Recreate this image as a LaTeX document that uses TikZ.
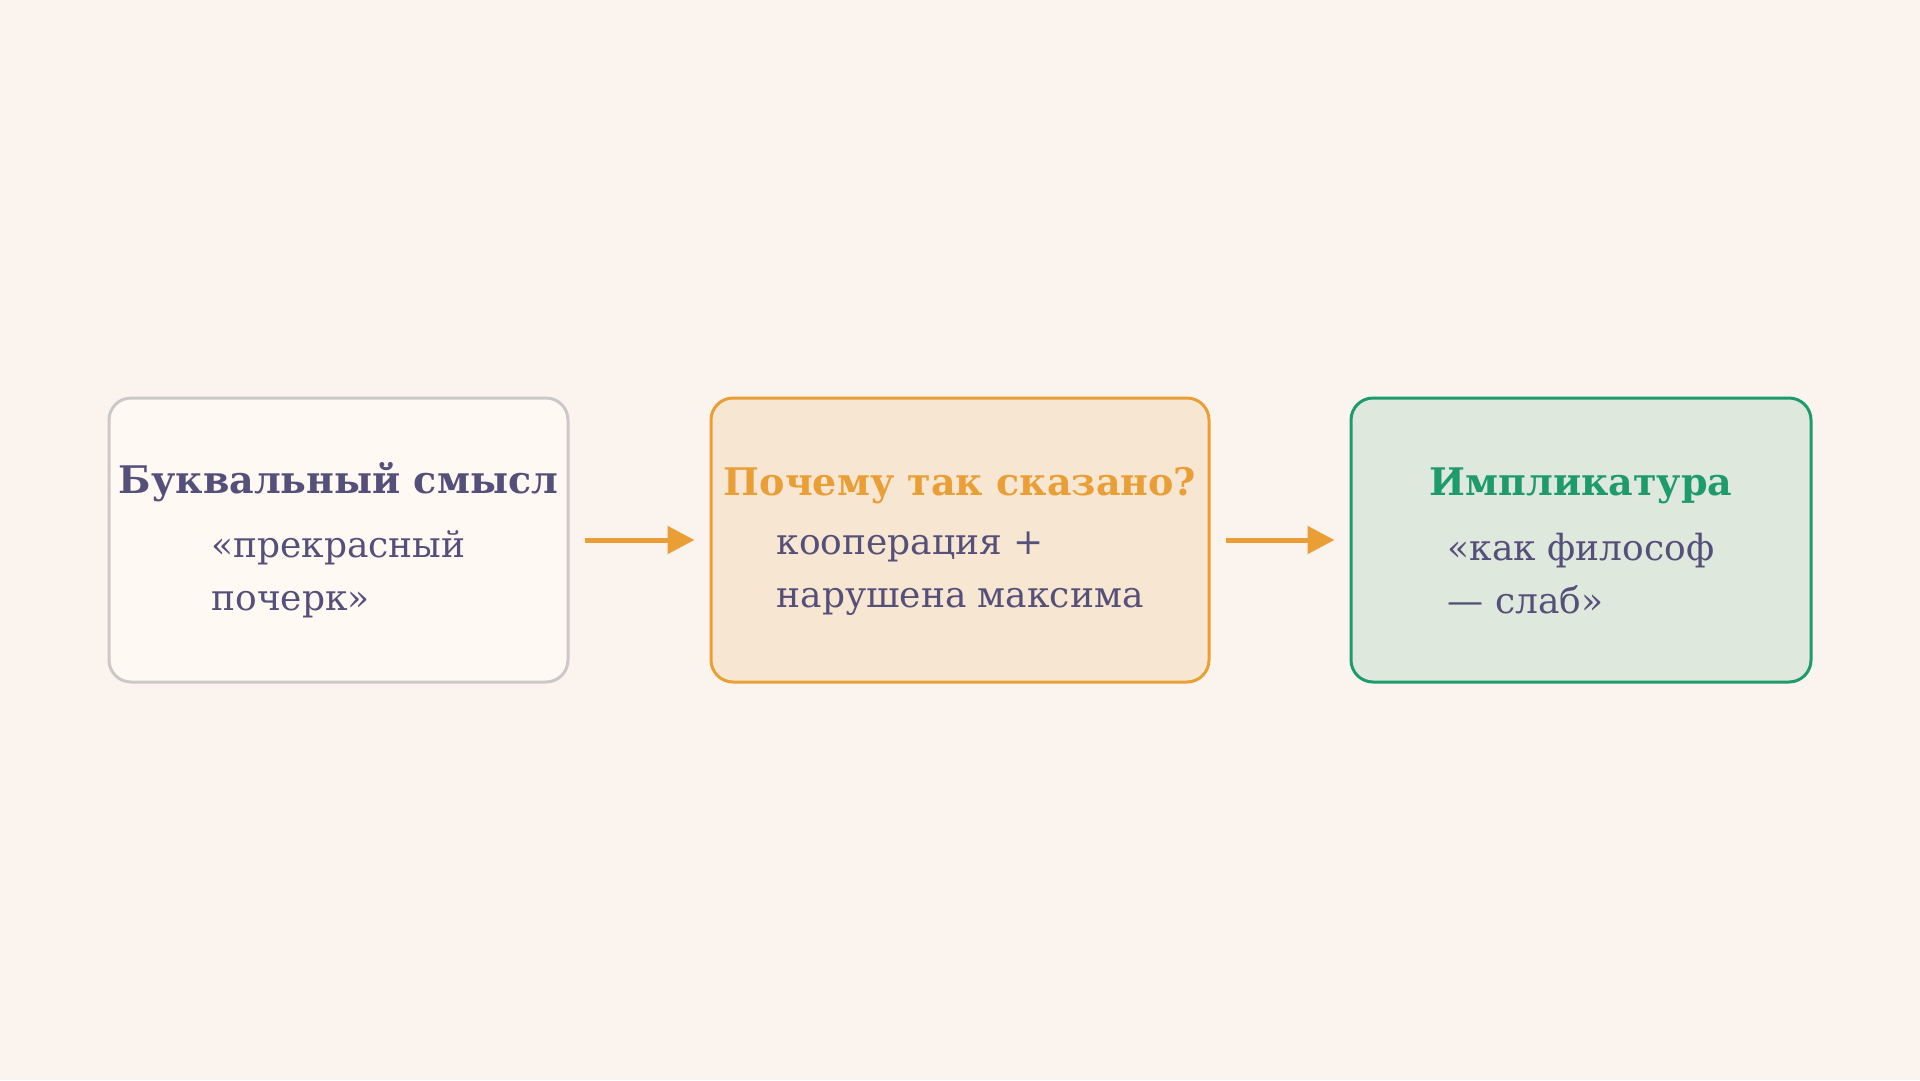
\documentclass[tikz,border=0pt]{standalone}
\usepackage{fontspec}
\setmainfont{DejaVu Serif}
\usepackage{tikz}
\usetikzlibrary{arrows.meta,positioning}
\definecolor{hinter}{HTML}{FBF4EE}
\definecolor{schrift}{HTML}{55507A}
\definecolor{orange}{HTML}{EA9E36}
\definecolor{gruen}{HTML}{1E9B6B}
\tikzset{
  kasten/.style={rounded corners=22pt,line width=3pt,minimum width=#1,minimum height=284pt,inner sep=0pt},
  titel/.style={font=\bfseries\fontsize{38}{46}\selectfont,anchor=base,inner sep=0pt},
  inhalt/.style={font=\fontsize{36}{53}\selectfont,text=schrift,align=left,anchor=base,inner sep=0pt},
  pfeil/.style={orange,line width=5pt,-{Triangle[length=27pt,width=27pt]},shorten <=15pt,shorten >=15pt}
}
\begin{document}
\begin{tikzpicture}[x=1pt,y=-1pt]
  \fill[hinter] (0,0) rectangle (1920,1080);
  \useasboundingbox (0,0) rectangle (1920,1080);
%Kaesten
  \node[kasten=459pt,draw={rgb,255:red,204;green,200;blue,200},fill={rgb,255:red,255;green,249;blue,243}] (wort) at (338.5,540) {};
  \node[kasten=498pt,draw=orange,fill={rgb,255:red,247;green,230;blue,209}] (warum) at (960,540) {};
  \node[kasten=460pt,draw=gruen,fill={rgb,255:red,223;green,232;blue,220}] (impl) at (1581,540) {};
%Texte (base = Grundlinie der letzten Zeile)
  \node[titel,text=schrift] (wortT) at (338.5,493) {Буквальный смысл};
  \node[inhalt] (wortI) at (338.5,610) {«прекрасный\\почерк»};
  \node[titel,text=orange] (warumT) at (960,495) {Почему так сказано?};
  \node[inhalt] (warumI) at (960,607) {кооперация +\\нарушена максима};
  \node[titel,text=gruen] (implT) at (1581,495) {Импликатура};
  \node[inhalt] (implI) at (1581,613) {«как философ\\— слаб»};
%Pfeile
  \draw[pfeil] (wort.east) -- (warum.west);
  \draw[pfeil] (warum.east) -- (impl.west);
\end{tikzpicture}
\end{document}
